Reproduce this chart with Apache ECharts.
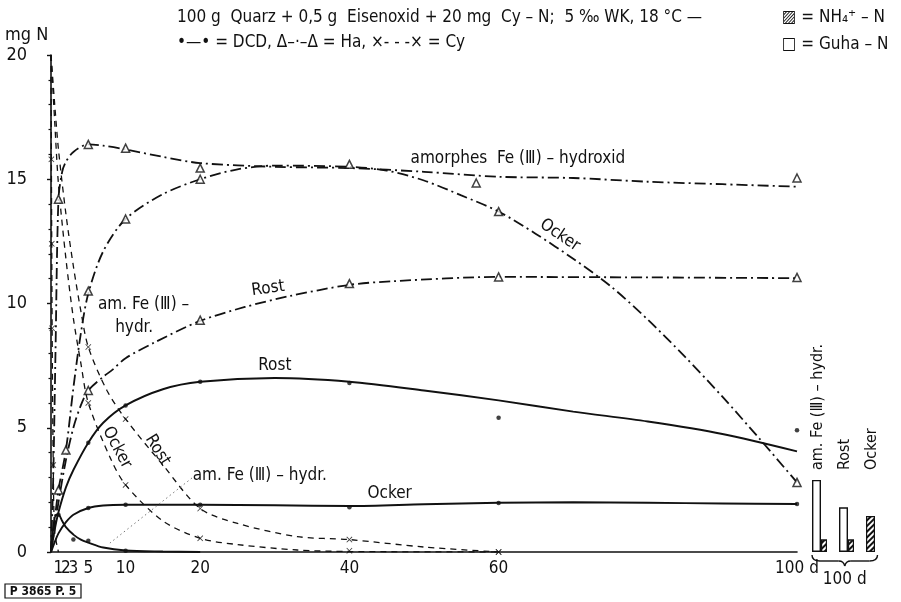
<!DOCTYPE html>
<html><head><meta charset="utf-8">
<script src="https://cdn.jsdelivr.net/npm/echarts@6/dist/echarts.min.js"></script>
<style>html,body{margin:0;padding:0;background:#fff}#c{width:901px;height:602px}</style>
</head><body><div id="c"></div>
<script>
const FONT = "'DejaVu Sans Condensed','Liberation Sans Narrow',sans-serif";
// axis ticks (two label rows share the same scale so the crowded 1,2,3,5 labels all show)
const xTickValues = [1, 3, 5, 10, 20, 40, 60, 100];
const xTickValuesExtra = [2];
const yTickValues = [0, 5, 10, 15, 20];

// ---- DCD (solid line, dots) : [day, mg N]
const dcdAmorphCurve = [[0,0],[0.3,1.0],[0.7,1.5],[1,1.5],[1.5,1.25],[2,1.0],[3,0.7],[4,0.5],[5,0.38],[7,0.18],[10,0.06],[15,0.02],[20,0]];
const dcdAmorphPts = [[1,1.5],[3,0.5],[5,0.45],[10,0.05]];
const dcdRostCurve = [[0,0],[0.5,0.9],[1,1.6],[2,2.6],[3,3.3],[5,4.4],[7,5.2],[10,5.9],[15,6.55],[20,6.85],[30,7.0],[40,6.85],[50,6.5],[60,6.1],[70,5.65],[80,5.25],[90,4.75],[100,4.05]];
const dcdRostPts = [[5,4.4],[10,5.9],[20,6.85],[40,6.8],[60,5.4],[100,4.9]];
const dcdOckerCurve = [[0,0],[0.5,0.4],[1,0.75],[2,1.2],[3,1.5],[5,1.77],[7,1.87],[10,1.9],[20,1.9],[30,1.88],[40,1.85],[50,1.92],[60,1.98],[70,2.0],[80,1.98],[90,1.95],[100,1.93]];
const dcdOckerPts = [[5,1.77],[10,1.9],[20,1.9],[40,1.8],[60,1.97],[100,1.93]];

// ---- Ha (dash-dot line, triangles)
const haAmorphCurve = [[0,0],[0.3,3],[0.6,8],[1,14.2],[1.5,15.3],[2,15.7],[3,16.1],[5,16.4],[7,16.35],[10,16.2],[15,15.9],[20,15.65],[30,15.5],[40,15.45],[50,15.3],[60,15.1],[70,15.05],[80,14.9],[90,14.8],[100,14.7]];
const haAmorphPts = [[1,14.2],[5,16.4],[10,16.25],[20,15.45],[40,15.6],[57,14.85],[100,15.05]];
const haOckerCurve = [[0,0],[0.5,1.3],[1,2.5],[2,4.1],[3,6.6],[4,8.8],[5,10.4],[7,12.1],[10,13.4],[15,14.4],[20,15.0],[25,15.4],[30,15.55],[40,15.5],[45,15.35],[50,14.95],[55,14.35],[60,13.7],[65,12.8],[70,11.8],[75,10.7],[80,9.35],[85,7.85],[90,6.25],[95,4.55],[100,2.8]];
const haOckerPts = [[1,2.5],[2,4.1],[5,10.5],[10,13.4],[20,15.0],[60,13.7],[100,2.8]];
const haRostCurve = [[0,0],[0.5,1.0],[1,2.0],[2,3.7],[3,5.0],[4,5.9],[5,6.5],[7,7.05],[8.3,7.35],[10,7.8],[14,8.45],[20,9.3],[26,9.86],[32,10.3],[40,10.75],[46,10.9],[60,11.07],[80,11.05],[100,11.02]];
const haRostPts = [[5,6.5],[20,9.33],[40,10.8],[60,11.07],[100,11.05]];

// ---- Cy (dashed line, crosses)
const cyAmorphCurve = [[0,20],[0.05,15.8],[0.1,12.4],[0.15,9.0],[0.3,3.5],[0.5,0.8],[1,0]];
const cyAmorphPts = [[0.05,15.8],[0.1,12.4],[0.15,9.0],[0.3,3.5]];
const cyRostCurve = [[0,20],[0.5,18.0],[1,16.2],[2,13.6],[3,11.5],[4,9.7],[5,8.25],[7.5,6.5],[10,5.35],[15,3.5],[20,1.75],[25,1.15],[33,0.62],[40,0.5],[50,0.2],[60,0]];
const cyRostPts = [[5,8.25],[10,5.35],[20,1.75],[40,0.5],[60,0]];
const cyOckerCurve = [[0,20],[0.5,17.3],[1,14.8],[2,11.8],[3,9.4],[4,7.6],[5,6.0],[8,3.75],[10,2.7],[15,1.25],[20,0.55],[25,0.3],[33,0.08],[40,0.02],[60,0]];
const cyOckerPts = [[5,6.0],[10,2.7],[20,0.55],[40,0.05],[60,0]];

// ---- 100 d bars
const barCategories = ['am. Fe (Ⅲ) – hydr.', 'Rost', 'Ocker'];
const guhaN = [2.9, 1.8, null];
const nh4N = [0.5, 0.5, 1.45];

// annotation leader (dotted) for am. Fe label
const amorphLeader = [[18.9, 2.98], [7.9, 0.36]];

const INK = '#111';
const DASHDOT = [11, 4, 2, 4];
const DASHED = [6, 5];
const crossPath = 'path://M1,0L5,4L9,0L10,1L6,5L10,9L9,10L5,6L1,10L0,9L4,5L0,1Z';

function curve(name, data, type, width) {
  return { name, type: 'line', data, smooth: 0.3, showSymbol: false, symbol: 'none',
    xAxisIndex: 0, yAxisIndex: 0, silent: true,
    lineStyle: { color: INK, width, type } };
}
function pts(name, data, kind) {
  const s = { name, type: 'scatter', data, xAxisIndex: 0, yAxisIndex: 0, z: 5, silent: true };
  if (kind === 'dot') { s.symbol = 'circle'; s.symbolSize = 4.5; s.itemStyle = { color: INK }; }
  if (kind === 'tri') { s.symbol = 'triangle'; s.symbolSize = [8, 8]; s.itemStyle = { color: '#fff', borderColor: INK, borderWidth: 1.5 }; }
  if (kind === 'x') { s.symbol = crossPath; s.symbolSize = 6; s.itemStyle = { color: INK }; }
  return s;
}

const hatch = { color: '#fff', borderColor: INK, borderWidth: 1.2,
  decal: { symbol: 'rect', symbolSize: 1, color: INK, backgroundColor: '#fff', dashArrayX: [1, 0], dashArrayY: [1.5, 2], rotation: -Math.PI / 4 } };
const plain = { color: '#fff', borderColor: INK, borderWidth: 1.4 };
const guhaData = guhaN.map((v, i) => v == null ? { value: nh4N[i], itemStyle: hatch } : v);
const nh4Data = guhaN.map((v, i) => v == null ? null : nh4N[i]);

const xLabelStyle = { fontFamily: FONT, fontSize: 17, color: INK, margin: 8 };
const chart = echarts.init(document.getElementById('c'), null, { renderer: 'canvas' });
chart.setOption({
  animation: false,
  backgroundColor: '#fff',
  textStyle: { fontFamily: FONT, color: INK },
  grid: [
    { left: 51, right: 104, top: 55, bottom: 50 },
    { left: 806, right: 14, top: 55, bottom: 50 }
  ],
  xAxis: [
    { type: 'value', gridIndex: 0, min: 0, max: 100, interval: 1,
      axisLine: { show: true, lineStyle: { color: INK, width: 1.6 } },
      axisTick: { show: false }, splitLine: { show: false },
      axisLabel: Object.assign({ customValues: xTickValues, hideOverlap: false,
        formatter: v => v === 100 ? '100 d' : String(v) }, xLabelStyle) },
    { type: 'category', gridIndex: 1, data: barCategories, show: false },
    { type: 'value', gridIndex: 0, min: 0, max: 100, interval: 1, position: 'bottom',
      axisLine: { show: false }, axisTick: { show: false }, splitLine: { show: false },
      axisLabel: Object.assign({ customValues: xTickValuesExtra }, xLabelStyle) }
  ],
  yAxis: [
    { type: 'value', gridIndex: 0, min: 0, max: 20, interval: 5, offset: 18,
      axisLine: { show: true, lineStyle: { color: INK, width: 1.6 } },
      axisTick: { show: true, length: 4, lineStyle: { color: INK, width: 1.4 } },
      minorTick: { show: true, splitNumber: 5, length: 2.5, lineStyle: { color: INK, width: 1.2 } },
      splitLine: { show: false },
      axisLabel: { customValues: yTickValues, fontFamily: FONT, fontSize: 18, color: INK, margin: 6 } },
    { type: 'value', gridIndex: 1, min: 0, max: 20, show: false }
  ],
  series: [
    curve('DCD am', dcdAmorphCurve, 'solid', 1.9),
    curve('DCD Rost', dcdRostCurve, 'solid', 1.9),
    curve('DCD Ocker', dcdOckerCurve, 'solid', 1.9),
    curve('Ha am', haAmorphCurve, DASHDOT, 1.8),
    curve('Ha Ocker', haOckerCurve, DASHDOT, 1.8),
    curve('Ha Rost', haRostCurve, DASHDOT, 1.8),
    curve('Cy am', cyAmorphCurve, DASHED, 1.3),
    curve('Cy Rost', cyRostCurve, DASHED, 1.3),
    curve('Cy Ocker', cyOckerCurve, DASHED, 1.3),
    { name: 'leader', type: 'line', data: amorphLeader, symbol: 'none', silent: true,
      lineStyle: { color: '#777', width: 1, type: [1.5, 3] } },
    pts('DCD am p', dcdAmorphPts, 'dot'), pts('DCD Rost p', dcdRostPts, 'dot'), pts('DCD Ocker p', dcdOckerPts, 'dot'),
    pts('Ha am p', haAmorphPts, 'tri'), pts('Ha Ocker p', haOckerPts, 'tri'), pts('Ha Rost p', haRostPts, 'tri'),
    pts('Cy am p', cyAmorphPts, 'x'), pts('Cy Rost p', cyRostPts, 'x'), pts('Cy Ocker p', cyOckerPts, 'x'),
    { name: 'Guha-N', type: 'bar', xAxisIndex: 1, yAxisIndex: 1, data: guhaData, barWidth: 9, barGap: '0%',
      itemStyle: plain, silent: true },
    { name: 'NH4-N', type: 'bar', xAxisIndex: 1, yAxisIndex: 1, data: nh4Data, barWidth: 6, barGap: '0%',
      itemStyle: hatch, silent: true }
  ]
});

// in-plot curve labels, anchored at data coordinates
const curveLabels = [
  { text: 'amorphes  Fe (Ⅲ) – hydroxid', at: [48.2, 15.85], rot: 0, align: 'left' },
  { text: 'Ocker', at: [68.2, 12.75], rot: -34, align: 'center' },
  { text: 'Rost', at: [29.1, 10.6], rot: 8, align: 'center' },
  { text: 'am. Fe (Ⅲ) –', at: [6.3, 9.94], rot: 0, align: 'left' },
  { text: 'hydr.', at: [8.6, 9.05], rot: 0, align: 'left' },
  { text: 'Rost', at: [30, 7.5], rot: 0, align: 'center' },
  { text: 'Ocker', at: [8.85, 4.2], rot: -62, align: 'center' },
  { text: 'Rost', at: [14.3, 4.1], rot: -58, align: 'center' },
  { text: 'am. Fe (Ⅲ) – hydr.', at: [19, 3.06], rot: 0, align: 'left' },
  { text: 'Ocker', at: [45.4, 2.37], rot: 0, align: 'center' }
];
const LBL = '17px ' + FONT;
const g = [];
curveLabels.forEach(l => {
  const p = chart.convertToPixel({ gridIndex: 0 }, l.at);
  g.push({ type: 'text', x: p[0], y: p[1], rotation: l.rot * Math.PI / 180, silent: true,
    style: { text: l.text, align: l.align, verticalAlign: 'middle', fill: INK, font: LBL } });
});
// vertical category labels above bars + brace
const b0 = chart.convertToPixel({ xAxisIndex: 1, yAxisIndex: 1 }, [0, 0]);
const b2 = chart.convertToPixel({ xAxisIndex: 1, yAxisIndex: 1 }, [2, 0]);
barCategories.forEach((c, i) => {
  const p = chart.convertToPixel({ xAxisIndex: 1, yAxisIndex: 1 }, [i, 0]);
  g.push({ type: 'text', x: p[0] - 1.5, y: p[1] - 82, rotation: Math.PI / 2, silent: true,
    style: { text: c, align: 'left', verticalAlign: 'middle', fill: INK, font: '16px ' + FONT } });
});
const L = b0[0] - 7.5, R = b2[0] + 4, M = (L + R) / 2, Y = b0[1] + 3;
const braceStyle = { stroke: INK, lineWidth: 1.4, fill: null };
g.push({ type: 'bezierCurve', silent: true, shape: { x1: L, y1: Y, x2: L + 8, y2: Y + 6, cpx1: L, cpy1: Y + 6 }, style: braceStyle });
g.push({ type: 'line', silent: true, shape: { x1: L + 8, y1: Y + 6, x2: M - 6, y2: Y + 6 }, style: braceStyle });
g.push({ type: 'bezierCurve', silent: true, shape: { x1: M - 6, y1: Y + 6, x2: M, y2: Y + 11, cpx1: M - 1, cpy1: Y + 6 }, style: braceStyle });
g.push({ type: 'bezierCurve', silent: true, shape: { x1: M, y1: Y + 11, x2: M + 6, y2: Y + 6, cpx1: M + 1, cpy1: Y + 6 }, style: braceStyle });
g.push({ type: 'line', silent: true, shape: { x1: M + 6, y1: Y + 6, x2: R - 8, y2: Y + 6 }, style: braceStyle });
g.push({ type: 'bezierCurve', silent: true, shape: { x1: R - 8, y1: Y + 6, x2: R, y2: Y, cpx1: R, cpy1: Y + 6 }, style: braceStyle });
g.push({ type: 'text', x: M, y: Y + 25, silent: true,
  style: { text: '100 d', align: 'center', verticalAlign: 'middle', fill: INK, font: '17px ' + FONT } });

// titles, legend texts
const TT = '17px ' + FONT;
g.push({ type: 'text', x: 177, y: 18, silent: true, style: { text: '100 g  Quarz + 0,5 g  Eisenoxid + 20 mg  Cy – N;  5 ‰ WK, 18 °C —', verticalAlign: 'middle', fill: INK, font: TT } });
g.push({ type: 'text', x: 177, y: 43, silent: true, style: { text: '•—• = DCD, Δ–·–Δ = Ha, ×- - -× = Cy', verticalAlign: 'middle', fill: INK, font: TT } });
g.push({ type: 'text', x: 782, y: 18, silent: true, style: { text: '▨ = NH₄⁺ – N', verticalAlign: 'middle', fill: INK, font: TT } });
g.push({ type: 'text', x: 782, y: 45, silent: true, style: { text: '□ = Guha – N', verticalAlign: 'middle', fill: INK, font: TT } });
g.push({ type: 'text', x: 5, y: 35, silent: true, style: { text: 'mg N', verticalAlign: 'middle', fill: INK, font: '18px ' + FONT } });
g.push({ type: 'rect', silent: true, shape: { x: 5, y: 584, width: 76, height: 14 }, style: { stroke: INK, lineWidth: 1.2, fill: '#fff' } });
g.push({ type: 'text', x: 43, y: 591.5, silent: true, style: { text: 'P 3865 P. 5', align: 'center', verticalAlign: 'middle', fill: INK, font: 'bold 12px ' + FONT } });

chart.setOption({ graphic: g });
</script></body></html>
